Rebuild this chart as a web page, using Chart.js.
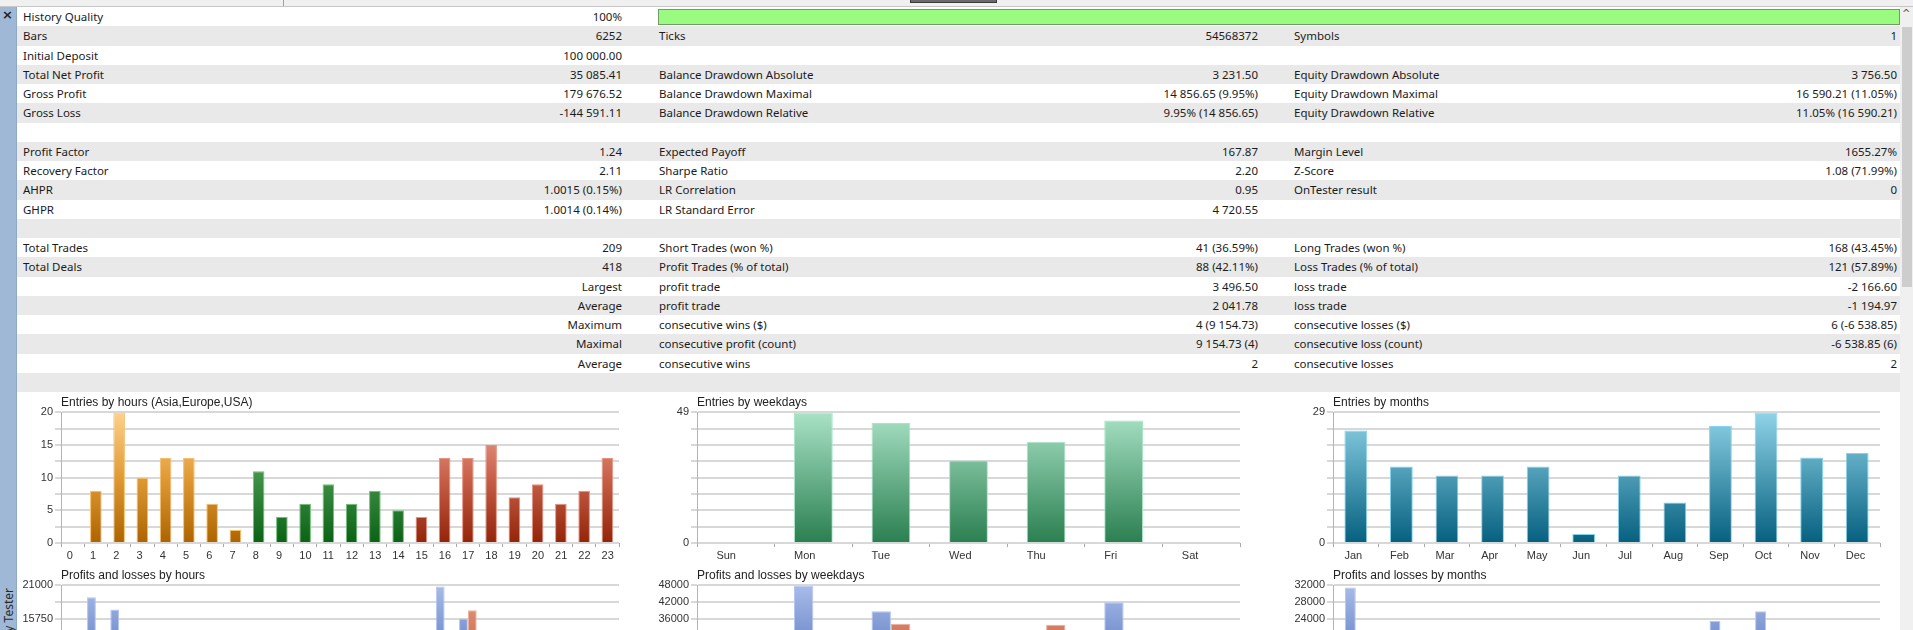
<!DOCTYPE html>
<html>
<head>
<meta charset="utf-8">
<title>Strategy Tester report</title>
<script src="https://cdn.jsdelivr.net/npm/chart.js@4.4.1/dist/chart.umd.min.js"></script>
<style>
  html, body { margin: 0; padding: 0; width: 1913px; height: 630px; overflow: hidden; background: #fff; }
  #page { position: relative; width: 1913px; height: 630px; overflow: hidden; font-family: "Segoe UI", "Noto Sans", sans-serif; font-size: 11.5px; color: #1b1b1b; }
  .topstrip { position: absolute; left: 0; top: 0; width: 1913px; height: 7px; background: #f0f0f0; border-bottom: 1px solid #c6c6c6; box-sizing: border-box; }
  .tabline { position: absolute; left: 283px; top: 0; width: 1px; height: 6px; background: #a0a0a0; }
  .tabbox { position: absolute; left: 910px; top: 0; width: 85px; height: 2px; background: #6a6a6a; border: 1px solid #3a3a3a; border-top: none; }
  .sidebar { position: absolute; left: 0; top: 7px; width: 17px; height: 623px; background: #9fb8d6; border-right: 1px solid #8ea8c8; box-sizing: border-box; }
  .close { position: absolute; left: 2px; top: 7px; font: bold 13px "DejaVu Sans", sans-serif; color: #222; }
  .vtitle { position: absolute; left: 0; top: 788px; width: 200px; height: 16px; line-height: 16px; text-align: right; transform-origin: 0 0; transform: rotate(-90deg); font: 12px "Segoe UI", "Noto Sans", sans-serif; color: #2a2a2a; white-space: nowrap; }
  .row { position: absolute; left: 17px; width: 1883px; height: 19.25px; background: #fff; }
  .row.odd { background: #e9e9e9; }
  .cell { position: absolute; top: 0; line-height: 19.25px; white-space: pre; }
  .quality { position: absolute; left: 658px; top: 8.5px; width: 1240px; height: 14px; background: #99fb80; border: 1px solid #6f9d64; }
  .scroll { position: absolute; left: 1900px; top: 7px; width: 13px; height: 623px; background: #f0f0f0; }
  .thumb { position: absolute; left: 1902px; top: 27px; width: 10px; height: 260px; background: #cdcdcd; }
  .arrow { position: absolute; left: 1902px; top: 8px; font: 10px "DejaVu Sans", sans-serif; color: #555; }
  canvas.chart { position: absolute; }
</style>
</head>
<body>
<div id="page">
  <div class="topstrip"></div>
  <div class="tabline"></div>
  <div class="tabbox"></div>
  <div id="report"></div>
  <div class="quality"></div>
  <div class="sidebar"></div>
  <div class="close">×</div>
  <div class="vtitle">Strategy Tester</div>
  <div class="scroll"></div>
  <div class="thumb"></div>
  <div class="arrow">^</div>
</div>
<script>
// Report table rows: label, value, label, value, label, value
const reportRows = [
  ['History Quality', '100%', '', '', '', ''],
  ['Bars', '6252', 'Ticks', '54568372', 'Symbols', '1'],
  ['Initial Deposit', '100 000.00', '', '', '', ''],
  ['Total Net Profit', '35 085.41', 'Balance Drawdown Absolute', '3 231.50', 'Equity Drawdown Absolute', '3 756.50'],
  ['Gross Profit', '179 676.52', 'Balance Drawdown Maximal', '14 856.65 (9.95%)', 'Equity Drawdown Maximal', '16 590.21 (11.05%)'],
  ['Gross Loss', '-144 591.11', 'Balance Drawdown Relative', '9.95% (14 856.65)', 'Equity Drawdown Relative', '11.05% (16 590.21)'],
  [],
  ['Profit Factor', '1.24', 'Expected Payoff', '167.87', 'Margin Level', '1655.27%'],
  ['Recovery Factor', '2.11', 'Sharpe Ratio', '2.20', 'Z-Score', '1.08 (71.99%)'],
  ['AHPR', '1.0015 (0.15%)', 'LR Correlation', '0.95', 'OnTester result', '0'],
  ['GHPR', '1.0014 (0.14%)', 'LR Standard Error', '4 720.55', '', ''],
  [],
  ['Total Trades', '209', 'Short Trades (won %)', '41 (36.59%)', 'Long Trades (won %)', '168 (43.45%)'],
  ['Total Deals', '418', 'Profit Trades (% of total)', '88 (42.11%)', 'Loss Trades (% of total)', '121 (57.89%)'],
  ['', 'Largest', 'profit trade', '3 496.50', 'loss trade', '-2 166.60'],
  ['', 'Average', 'profit trade', '2 041.78', 'loss trade', '-1 194.97'],
  ['', 'Maximum', 'consecutive wins ($)', '4 (9 154.73)', 'consecutive losses ($)', '6 (-6 538.85)'],
  ['', 'Maximal', 'consecutive profit (count)', '9 154.73 (4)', 'consecutive loss (count)', '-6 538.85 (6)'],
  ['', 'Average', 'consecutive wins', '2', 'consecutive losses', '2'],
  []
];

// Entries charts
const hourLabels = ['0', '1', '2', '3', '4', '5', '6', '7', '8', '9', '10', '11', '12', '13', '14', '15', '16', '17', '18', '19', '20', '21', '22', '23'];
const hourEntries = [0, 8, 20, 10, 13, 13, 6, 2, 11, 4, 6, 9, 6, 8, 5, 4, 13, 13, 15, 7, 9, 6, 8, 13];
const weekdayLabels = ['Sun', 'Mon', 'Tue', 'Wed', 'Thu', 'Fri', 'Sat'];
const weekdayEntries = [0, 49, 45, 31, 38, 46, 0];
const monthLabels = ['Jan', 'Feb', 'Mar', 'Apr', 'May', 'Jun', 'Jul', 'Aug', 'Sep', 'Oct', 'Nov', 'Dec'];
const monthEntries = [25, 17, 15, 15, 17, 2, 15, 9, 26, 29, 19, 20];

// Profits and losses charts (only the tops above the window edge can be read, null = not visible)
const hourProfits = [null, 19170, 17250, null, null, null, null, null, null, null, null, null, null, null, null, null, 20830, 15850, null, null, null, null, null, null];
const hourLosses = [null, null, null, null, null, null, null, null, null, null, null, null, null, null, null, null, null, 17130, null, null, null, null, null, null];
const weekdayProfits = [0, 47900, 38770, null, null, 42000, 0];
const weekdayLosses = [0, null, 34330, null, 33950, null, 0];
const monthProfits = [31500, null, null, null, null, null, null, null, 23570, 25850, null, null];
const monthLosses = [null, null, null, null, null, null, null, null, null, null, null, null];

const reportElem = document.getElementById('report');
const page = document.getElementById('page');

const createReport = () => {
  const rowTop = 7;
  const rowHeight = 19.25;

  const addCell = (row, text, side, px) => {
    if (!text) return;
    const cell = document.createElement('div');
    cell.className = 'cell';
    cell.style[side] = px + 'px';
    cell.textContent = text;
    row.appendChild(cell);
  };

  reportRows.forEach((cols, i) => {
    const row = document.createElement('div');
    row.className = 'row' + (i % 2 ? ' odd' : '');
    row.style.top = (rowTop + i * rowHeight) + 'px';

    addCell(row, cols[0], 'left', 6);
    addCell(row, cols[1], 'right', 1278);
    addCell(row, cols[2], 'left', 642);
    addCell(row, cols[3], 'right', 642);
    addCell(row, cols[4], 'left', 1277);
    addCell(row, cols[5], 'right', 3);

    reportElem.appendChild(row);
  });
}

Chart.defaults.font.family = "'Liberation Sans', Arial, sans-serif";
Chart.defaults.color = '#333';

const vGradient = (stops, fallback) => (ctx) => {
  const chart = ctx.chart;
  const area = chart.chartArea;
  if (!area) return fallback;
  const g = chart.ctx.createLinearGradient(0, area.top, 0, area.bottom);
  stops.forEach(([offset, color]) => g.addColorStop(offset, color));
  return g;
};

const palette = {
  asia: { bg: vGradient([[0, '#fdd08c'], [0.5, '#e09a35'], [1, '#ad6400']], '#e09a35'), border: '#f7bd6a' },
  europe: { bg: vGradient([[0, '#8fd08f'], [0.5, '#3f9048'], [1, '#0a6214']], '#3f9048'), border: '#6fc077' },
  usa: { bg: vGradient([[0, '#f0a898'], [0.5, '#c8604a'], [1, '#922409']], '#c8604a'), border: '#e7917f' },
  weekday: { bg: vGradient([[0, '#a9e2c6'], [1, '#2a7f50']], '#6ab08a'), border: '#a6e6c6' },
  month: { bg: vGradient([[0, '#8fd3e8'], [1, '#05607f']], '#4a9ab4'), border: '#88d4ec' },
  profit: { bg: vGradient([[0, '#a8bce9'], [0.35, '#7b95d1'], [1, '#4a68b0']], '#7b95d1'), border: '#b4c6ef' },
  loss: { bg: vGradient([[0, '#e9a088'], [0.35, '#d07a5e'], [1, '#a84a30']], '#d07a5e'), border: '#efb09a' }
};

// Trading sessions by hour: Asia, Europe, USA
const hourSession = (i) => i < 8 ? 'asia' : (i < 15 ? 'europe' : 'usa');

const createChart = (opt) => {
  const canvas = document.createElement('canvas');
  canvas.className = 'chart';
  canvas.width = opt.width;
  canvas.height = opt.height;
  canvas.style.left = opt.left + 'px';
  canvas.style.top = opt.top + 'px';
  page.insertBefore(canvas, document.querySelector('.sidebar'));

  const axisWidth = 40;
  const rightPad = 12;
  const catWidth = (opt.width - axisWidth - rightPad) / opt.labels.length;

  return new Chart(canvas, {
    type: 'bar',
    data: { labels: opt.labels, datasets: opt.datasets },
    options: {
      responsive: false,
      animation: false,
      devicePixelRatio: 1,
      layout: { padding: { left: 0, right: rightPad, top: 0, bottom: 0 } },
      plugins: {
        legend: { display: false },
        tooltip: { enabled: false },
        title: {
          display: true,
          text: opt.title,
          align: 'start',
          fullSize: false,
          color: '#222',
          font: { size: 12, weight: 'normal' },
          padding: { top: 0, bottom: 3 }
        }
      },
      scales: {
        x: {
          offset: true,
          afterFit: (s) => { s.height = 20; },
          border: { display: false },
          grid: { drawOnChartArea: false, drawTicks: true, tickLength: 4, color: '#a9a9a9', offset: true },
          ticks: { autoSkip: false, maxRotation: 0, align: 'start', labelOffset: -catWidth / 4, padding: 2, font: { size: 11 }, color: '#333' }
        },
        y: {
          min: 0,
          max: opt.yMax,
          afterFit: (s) => { s.width = axisWidth; },
          border: { display: true, color: '#b4b4b4', width: 1 },
          grid: { color: '#d8d8d8', lineWidth: 2, tickLength: 6, drawTicks: true },
          ticks: { stepSize: opt.yStep, autoSkip: false, padding: 2, font: { size: 11 }, color: '#333', callback: opt.yLabel }
        }
      }
    }
  });
}

const entriesDataset = (values, colorOf) => ({
  data: values,
  backgroundColor: (ctx) => palette[colorOf(ctx.dataIndex)].bg(ctx),
  borderColor: (ctx) => palette[colorOf(ctx.dataIndex)].border,
  borderWidth: 1,
  categoryPercentage: 1,
  barPercentage: 0.5
});

const pnlDatasets = (profits, losses, groupWidth) => [
  { data: profits, backgroundColor: palette.profit.bg, borderColor: palette.profit.border, borderWidth: 1, categoryPercentage: groupWidth, barPercentage: 1 },
  { data: losses, backgroundColor: palette.loss.bg, borderColor: palette.loss.border, borderWidth: 1, categoryPercentage: groupWidth, barPercentage: 1 }
];

const everyN = (n) => (v) => (Math.abs(v % n) < 1e-6 ? v : '');
const endsOnly = (max) => (v) => (v === 0 || v === max ? v : '');

createReport();

// Top row: entries
createChart({
  left: 21, top: 395, width: 610, height: 168,
  title: 'Entries by hours (Asia,Europe,USA)',
  labels: hourLabels,
  datasets: [entriesDataset(hourEntries, hourSession)],
  yMax: 20, yStep: 2.5, yLabel: everyN(5)
});

createChart({
  left: 657, top: 395, width: 595, height: 168,
  title: 'Entries by weekdays',
  labels: weekdayLabels,
  datasets: [entriesDataset(weekdayEntries, () => 'weekday')],
  yMax: 49, yStep: 49 / 8, yLabel: endsOnly(49)
});

createChart({
  left: 1293, top: 395, width: 599, height: 168,
  title: 'Entries by months',
  labels: monthLabels,
  datasets: [entriesDataset(monthEntries, () => 'month')],
  yMax: 29, yStep: 29 / 8, yLabel: endsOnly(29)
});

// Bottom row: profits and losses (cut by the window edge)
createChart({
  left: 21, top: 568, width: 610, height: 172,
  title: 'Profits and losses by hours',
  labels: hourLabels,
  datasets: pnlDatasets(hourProfits, hourLosses, 0.76),
  yMax: 21000, yStep: 2625, yLabel: everyN(5250)
});

createChart({
  left: 657, top: 568, width: 595, height: 172,
  title: 'Profits and losses by weekdays',
  labels: weekdayLabels,
  datasets: pnlDatasets(weekdayProfits, weekdayLosses, 0.5),
  yMax: 48000, yStep: 6000, yLabel: everyN(6000)
});

createChart({
  left: 1293, top: 568, width: 599, height: 172,
  title: 'Profits and losses by months',
  labels: monthLabels,
  datasets: pnlDatasets(monthProfits, monthLosses, 0.48),
  yMax: 32000, yStep: 4000, yLabel: everyN(4000)
});
</script>
</body>
</html>
